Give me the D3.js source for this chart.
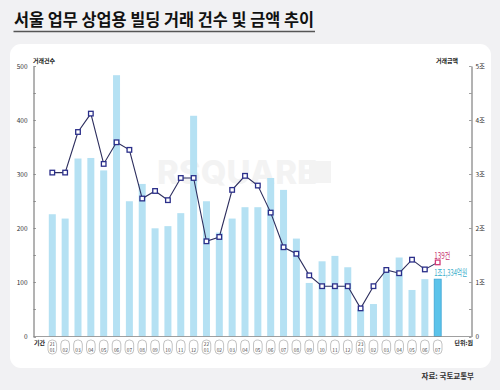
<!DOCTYPE html>
<html><head><meta charset="utf-8">
<script src="https://cdn.jsdelivr.net/npm/d3@7"></script>
<style>
html,body{margin:0;padding:0;background:#f1f1f3;}
svg{display:block;font-family:"Noto Sans CJK KR","Noto Sans",sans-serif;}
</style></head><body>
<svg id="c" width="500" height="390"></svg>
<script>
const months = ["21.01","21.02","21.03","21.04","21.05","21.06","21.07","21.08","21.09","21.10","21.11","21.12",
"22.01","22.02","22.03","22.04","22.05","22.06","22.07","22.08","22.09","22.10","22.11","22.12",
"23.01","23.02","23.03","23.04","23.05","23.06","23.07"];
// 거래건수 (건)
const counts = [303,303,378,412,319,359,345,255,269,252,293,293,176,184,271,297,279,229,165,153,113,93,93,93,52,93,123,117,142,124,137];
// 거래금액 (조원)
const amounts = [2.26,2.18,3.29,3.30,3.07,4.83,2.50,2.82,2.00,2.04,2.28,4.08,2.50,1.92,2.18,2.39,2.39,2.93,2.71,1.81,0.99,1.39,1.49,1.28,0.50,0.60,1.24,1.46,0.86,1.06,1.06];
const leftTicks = [0,100,200,300,400,500];
const rightTicks = [0,1,2,3,4,5];
const rightTickLabels = ["0","1조","2조","3조","4조","5조"];
const title = "서울 업무 상업용 빌딩 거래 건수 및 금액 추이";
const lastCountLabel = "139건";
const lastAmountLabel = "1조1,334억원";

const svg = d3.select("#c");
svg.append("rect").attr("width",500).attr("height",390).attr("fill","#f1f1f3");
// title
svg.append("text").attr("x",14).attr("y",26).attr("font-size",17).attr("font-weight",700)
  .attr("fill","#111").attr("textLength",300).attr("lengthAdjust","spacingAndGlyphs").text(title);
svg.append("line").attr("x1",13.5).attr("x2",315).attr("y1",31.5).attr("y2",31.5)
  .attr("stroke","#555").attr("stroke-width",1.5);
// card
svg.append("rect").attr("x",10).attr("y",44).attr("width",481).attr("height",324).attr("rx",11).attr("fill","#fff");
// source
svg.append("text").attr("x",474).attr("y",379).attr("text-anchor","end").attr("font-size",7.5)
  .attr("font-weight",700).attr("fill","#333").text("자료: 국토교통부");

const x = d3.scalePoint().domain(months).range([52.3,437.7]);
const yL = d3.scaleLinear().domain([0,500]).range([336.5,66]);
const yR = d3.scaleLinear().domain([0,5]).range([336.5,66]);
const bw = 7;

// watermark
const wm = svg.append("g");
wm.append("text").attr("x",157).attr("y",184).attr("font-size",33).attr("font-weight",800)
  .attr("fill","#f3f3f3").attr("font-family","Inter, 'Noto Sans', sans-serif").text("RSQUARE");
wm.append("rect").attr("x",309).attr("y",161).attr("width",22).attr("height",22).attr("fill","#f3f3f3");

// bars
svg.append("g").selectAll("rect").data(amounts).join("rect")
  .attr("x",(d,i)=>x(months[i])-bw/2).attr("width",bw)
  .attr("y",d=>yR(d)).attr("height",d=>yR(0)-yR(d))
  .attr("fill",(d,i)=>i===amounts.length-1?"#5bc3ea":"#b5e1f3")
  .attr("stroke",(d,i)=>i===amounts.length-1?"#3ea6d4":"none").attr("stroke-width",0.8);

// axes
const yLa = d3.axisLeft(yL).tickValues(leftTicks).tickSize(0).tickPadding(6);
const gl = svg.append("g").attr("transform","translate(33.5,0)").call(yLa);
gl.select(".domain").attr("stroke","#666");
gl.selectAll("text").attr("font-size",6.5).attr("fill","#333").attr("font-family","'Noto Sans CJK KR',sans-serif");
svg.append("g").selectAll("line").data(d3.range(0,501,50)).join("line")
  .attr("x1",33.5).attr("x2",36).attr("y1",d=>Math.round(yL(d))+0.5).attr("y2",d=>Math.round(yL(d))+0.5)
  .attr("stroke","#777").attr("stroke-width",0.7);

const yRa = d3.axisRight(yR).tickValues(rightTicks).tickFormat((d,i)=>rightTickLabels[i]).tickSize(0).tickPadding(4);
const gr = svg.append("g").attr("transform","translate(471.5,0)").call(yRa);
gr.select(".domain").attr("stroke","#666");
gr.selectAll("text").attr("font-size",6.5).attr("fill","#333").attr("font-family","'Noto Sans CJK KR',sans-serif");
svg.append("g").selectAll("line").data(d3.range(0,5.01,0.5)).join("line")
  .attr("x1",469).attr("x2",471.5).attr("y1",d=>Math.round(yR(d))+0.5).attr("y2",d=>Math.round(yR(d))+0.5)
  .attr("stroke","#777").attr("stroke-width",0.7);

// baseline
svg.append("line").attr("x1",33.5).attr("x2",471.5).attr("y1",336.5).attr("y2",336.5).attr("stroke","#888").attr("stroke-width",0.8);

// axis titles
const small = (t,xx,yy,anchor)=>svg.append("text").attr("x",xx).attr("y",yy).attr("font-size",6)
  .attr("font-weight",700).attr("fill","#222").attr("text-anchor",anchor||"start").text(t);
small("거래건수",33,63);
small("거래금액",458,63,"end");
small("기간",34,345);
small("단위:원",473,345,"end");

// month boxes
const mg = svg.append("g").selectAll("g").data(months).join("g")
  .attr("transform",d=>`translate(${x(d)},0)`);
mg.append("rect").attr("x",-4.3).attr("y",340).attr("width",8.6).attr("height",14).attr("rx",4)
  .attr("fill","#fff").attr("stroke","#9a9a9a").attr("stroke-width",0.6);
mg.append("text").attr("y",352).attr("text-anchor","middle").attr("font-size",4.8).attr("fill","#444")
  .text(d=>d.split(".")[1]);
mg.filter(d=>d.endsWith(".01")).append("text").attr("y",346.3).attr("text-anchor","middle")
  .attr("font-size",4.8).attr("fill","#444").text(d=>d.split(".")[0]);

// line
const line = d3.line().x((d,i)=>x(months[i])).y(d=>yL(d));
svg.append("path").datum(counts).attr("d",line).attr("fill","none").attr("stroke","#2d2e5e").attr("stroke-width",1.1);
const ms = 4.6;
svg.append("g").selectAll("rect").data(counts).join("rect")
  .attr("x",(d,i)=>x(months[i])-ms/2).attr("y",d=>yL(d)-ms/2).attr("width",ms).attr("height",ms)
  .attr("fill","#fff")
  .attr("stroke",(d,i)=>i===counts.length-1?"#d23a78":"#2b2f8a").attr("stroke-width",1.3);

// end labels (condensed)
const li = counts.length-1;
const lx = x(months[li])-3.5;
svg.append("text").attr("transform",`translate(${lx},258.5) scale(0.66,1)`).attr("font-size",9.5)
  .attr("fill","#c8336e").text(lastCountLabel);
svg.append("text").attr("transform",`translate(${lx},276) scale(0.6,1)`).attr("font-size",9.5)
  .attr("fill","#3aaecb").text(lastAmountLabel);
</script>
</body></html>
